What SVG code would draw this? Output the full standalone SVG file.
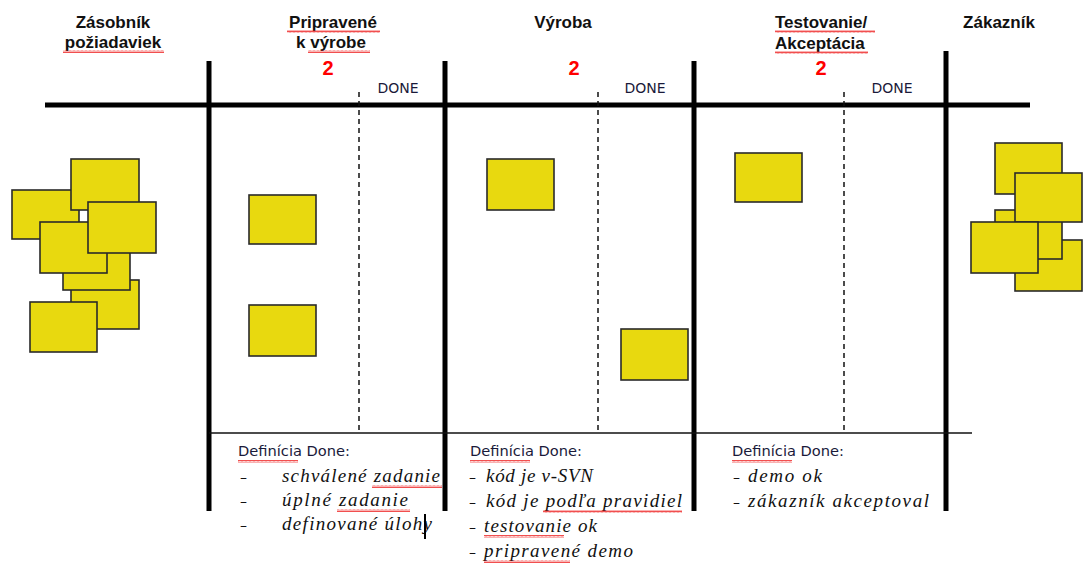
<svg xmlns="http://www.w3.org/2000/svg" width="1083" height="566" viewBox="0 0 1083 566">
<style>
.hdr{font-family:"Liberation Sans",Arial,sans-serif;font-weight:bold;font-size:17px;fill:#111}
.wip{font-family:"Liberation Sans",Arial,sans-serif;font-weight:bold;font-size:20px;fill:#f00;text-anchor:middle}
.done{font-family:"DejaVu Sans",sans-serif;font-size:14px;fill:#1a1a3a;text-anchor:middle}
.def{font-family:"DejaVu Sans",sans-serif;font-size:14.5px;fill:#1a1a3a}
.dash{font-family:"DejaVu Sans",sans-serif;font-size:14px;fill:#111}
.hand{font-family:"Liberation Serif","Times New Roman",serif;font-style:italic;font-size:19px;fill:#111}
.note{fill:#E8D90F;stroke:#2a2a2a;stroke-width:1.6}
.thick{stroke:#000;stroke-width:5;fill:none}
.dashed{stroke:#111;stroke-width:1.5;stroke-dasharray:5 4;fill:none}
.thin{stroke:#111;stroke-width:1.5;fill:none}
.sq{fill:url(#squig)}
</style>
<defs>
<pattern id="squig" x="0" y="0" width="4" height="3" patternUnits="userSpaceOnUse">
<polyline points="0,2.5 1,0.5 2,2.5 3,0.5 4,2.5" fill="none" stroke="#e22" stroke-width="0.8"/>
</pattern>
</defs>

<g id="connectors">
<line class="thick" x1="45" y1="105" x2="1030" y2="105"/>
<line class="thick" x1="209" y1="61" x2="209" y2="511"/>
<line class="thick" x1="445" y1="61" x2="445" y2="511"/>
<line class="thick" x1="694" y1="61" x2="694" y2="511"/>
<line class="thick" x1="946" y1="51" x2="946" y2="511"/>
<line class="dashed" x1="359" y1="92" x2="359" y2="431"/>
<line class="dashed" x1="598" y1="92" x2="598" y2="431"/>
<line class="dashed" x1="844" y1="92" x2="844" y2="431"/>
<line class="thin" x1="209" y1="433" x2="972" y2="433"/>
</g>

<g id="headers">
<text class="hdr" x="113" y="28" text-anchor="middle">Zásobník</text>
<text class="hdr" x="113" y="48" text-anchor="middle">požiadaviek</text>
<rect class="sq" x="63" y="50" width="101" height="3"/>
<text class="hdr" x="333" y="28" text-anchor="middle">Pripravené</text>
<rect class="sq" x="287" y="30" width="93" height="3"/>
<text class="hdr" x="331" y="48" text-anchor="middle">k výrobe</text>
<rect class="sq" x="308" y="50" width="62" height="3"/>
<text class="wip" x="328" y="75">2</text>
<text class="hdr" x="563" y="28" text-anchor="middle">Výroba</text>
<text class="wip" x="574" y="75">2</text>
<text class="hdr" x="775" y="28">Testovanie/</text>
<rect class="sq" x="775" y="30" width="100" height="3"/>
<text class="hdr" x="775" y="49">Akceptácia</text>
<rect class="sq" x="775" y="51" width="93" height="3"/>
<text class="wip" x="821" y="75">2</text>
<text class="hdr" x="999" y="28" text-anchor="middle">Zákazník</text>
<text class="done" x="398" y="93">DONE</text>
<text class="done" x="645" y="93">DONE</text>
<text class="done" x="892" y="93">DONE</text>
</g>

<g id="backlog">
<rect class="note" x="12" y="190" width="67" height="49"/>
<rect class="note" x="71" y="159" width="68" height="51"/>
<rect class="note" x="71" y="280" width="68" height="49"/>
<rect class="note" x="63" y="240" width="67" height="50"/>
<rect class="note" x="40" y="222" width="67" height="51"/>
<rect class="note" x="88" y="202" width="68" height="51"/>
<rect class="note" x="30" y="302" width="67" height="50"/>
</g>

<g id="ready">
<rect class="note" x="249" y="195" width="67" height="49"/>
<rect class="note" x="249" y="305" width="67" height="51"/>
</g>

<g id="production">
<rect class="note" x="487" y="159" width="67" height="51"/>
<rect class="note" x="621" y="329" width="67" height="51"/>
</g>

<g id="testing">
<rect class="note" x="735" y="153" width="67" height="49"/>
</g>

<g id="customer">
<rect class="note" x="995" y="143" width="67" height="51"/>
<rect class="note" x="1015" y="240" width="67" height="51"/>
<rect class="note" x="995" y="210" width="67" height="49"/>
<rect class="note" x="1015" y="173" width="67" height="49"/>
<rect class="note" x="971" y="222" width="67" height="51"/>
</g>

<g id="dod-ready">
<text class="def" x="238" y="456" textLength="112" lengthAdjust="spacingAndGlyphs">Definícia Done:</text>
<rect class="sq" x="238" y="460" width="60" height="3"/>
<text class="dash" x="240" y="482">–</text>
<text class="hand" x="282" y="482" textLength="158" lengthAdjust="spacing">schválené zadanie</text>
<rect class="sq" x="372" y="485" width="70" height="3"/>
<text class="dash" x="240" y="506">–</text>
<text class="hand" x="282" y="506" textLength="126" lengthAdjust="spacing">úplné zadanie</text>
<rect class="sq" x="337" y="509" width="73" height="3"/>
<text class="dash" x="240" y="530">–</text>
<text class="hand" x="282" y="530" textLength="150" lengthAdjust="spacing">definované úlohy</text>
<line x1="425" y1="514" x2="425" y2="539" stroke="#000" stroke-width="2"/>
</g>

<g id="dod-production">
<text class="def" x="470" y="456" textLength="112" lengthAdjust="spacingAndGlyphs">Definícia Done:</text>
<rect class="sq" x="470" y="460" width="60" height="3"/>
<text class="dash" x="469" y="482">–</text>
<text class="hand" x="486" y="482" textLength="107" lengthAdjust="spacing">kód je v-SVN</text>
<text class="dash" x="469" y="507">–</text>
<text class="hand" x="486" y="507" textLength="196" lengthAdjust="spacing">kód je podľa pravidiel</text>
<rect class="sq" x="543" y="510" width="139" height="3"/>
<text class="dash" x="469" y="532">–</text>
<text class="hand" x="484" y="532" textLength="113" lengthAdjust="spacing">testovanie ok</text>
<rect class="sq" x="484" y="535" width="80" height="3"/>
<text class="dash" x="469" y="557">–</text>
<text class="hand" x="484" y="557" textLength="149" lengthAdjust="spacing">pripravené demo</text>
<rect class="sq" x="484" y="560" width="86" height="3"/>
</g>

<g id="dod-testing">
<text class="def" x="732" y="456" textLength="112" lengthAdjust="spacingAndGlyphs">Definícia Done:</text>
<rect class="sq" x="732" y="460" width="60" height="3"/>
<text class="dash" x="733" y="482">–</text>
<text class="hand" x="748" y="482" textLength="74" lengthAdjust="spacing">demo ok</text>
<text class="dash" x="733" y="507">–</text>
<text class="hand" x="748" y="507" textLength="181" lengthAdjust="spacing">zákazník akceptoval</text>
</g>
</svg>
